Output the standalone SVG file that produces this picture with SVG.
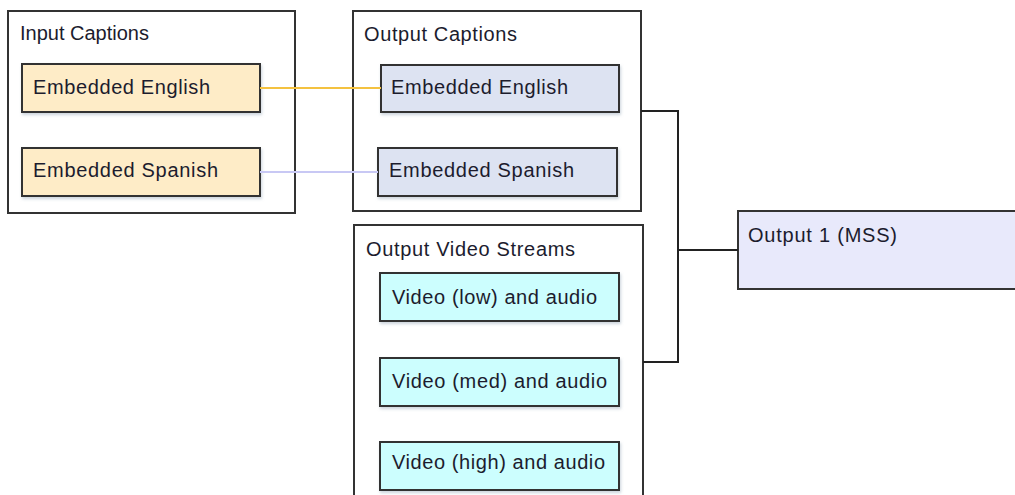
<svg xmlns="http://www.w3.org/2000/svg" width="1015" height="495" viewBox="0 0 1015 495">
<defs>
<filter id="sh" x="-10%" y="-20%" width="130%" height="150%">
<feDropShadow dx="1" dy="2" stdDeviation="1.5" flood-color="#9ab" flood-opacity="0.5"/>
</filter>
</defs>
<style>
.grp{fill:#fff;stroke:#333;stroke-width:2}
.in{fill:#feecc7;stroke:#333;stroke-width:2;filter:url(#sh)}
.oc{fill:#dde3f2;stroke:#333;stroke-width:2;filter:url(#sh)}
.vid{fill:#ccfefe;stroke:#333;stroke-width:2;filter:url(#sh)}
.out{fill:#e8e9fb;stroke:#333;stroke-width:2}
text{font-family:"Liberation Sans",Arial,sans-serif;font-size:20px;fill:#1c1c2e}
.conn{fill:none;stroke:#222;stroke-width:2}
</style>
<g id="input-captions">
<rect class="grp" x="8" y="11" width="287" height="202"/>
<text x="20" y="40">Input Captions</text>
</g>
<g id="in-english">
<rect class="in" x="22" y="64" width="238" height="48"/>
<text x="33" y="94" textLength="177" lengthAdjust="spacing">Embedded English</text>
</g>
<g id="in-spanish">
<rect class="in" x="22" y="148" width="238" height="48"/>
<text x="33" y="177" textLength="185" lengthAdjust="spacing">Embedded Spanish</text>
</g>
<g id="output-captions">
<rect class="grp" x="353" y="11" width="288" height="200"/>
<text x="364" y="41" textLength="153" lengthAdjust="spacing">Output Captions</text>
</g>
<g id="out-english">
<rect class="oc" x="381" y="65" width="238" height="47"/>
<text x="391" y="94" textLength="177" lengthAdjust="spacing">Embedded English</text>
</g>
<g id="out-spanish">
<rect class="oc" x="378" y="148" width="239" height="48"/>
<text x="389" y="177" textLength="185" lengthAdjust="spacing">Embedded Spanish</text>
</g>
<g id="output-video-streams">
<rect class="grp" x="354" y="225" width="289" height="280"/>
<text x="366" y="256" textLength="209" lengthAdjust="spacing">Output Video Streams</text>
</g>
<g id="video-low">
<rect class="vid" x="380" y="273" width="239" height="48"/>
<text x="392" y="304" textLength="205" lengthAdjust="spacing">Video (low) and audio</text>
</g>
<g id="video-med">
<rect class="vid" x="380" y="358" width="239" height="48"/>
<text x="392" y="388" textLength="215" lengthAdjust="spacing">Video (med) and audio</text>
</g>
<g id="video-high">
<rect class="vid" x="380" y="442" width="239" height="48"/>
<text x="392" y="469" textLength="213" lengthAdjust="spacing">Video (high) and audio</text>
</g>
<g id="output-1">
<rect class="out" x="738" y="211" width="290" height="78"/>
<text x="748" y="242" textLength="149" lengthAdjust="spacing">Output 1 (MSS)</text>
</g>
<g id="connectors">
<line x1="260" y1="88" x2="381" y2="88" stroke="#f4c240" stroke-width="2"/>
<line x1="260" y1="172" x2="378" y2="172" stroke="#c8c8f4" stroke-width="2"/>
<polyline class="conn" points="641,111 678,111 678,362 643,362"/>
<line class="conn" x1="678" y1="250" x2="738" y2="250"/>
</g>
</svg>
